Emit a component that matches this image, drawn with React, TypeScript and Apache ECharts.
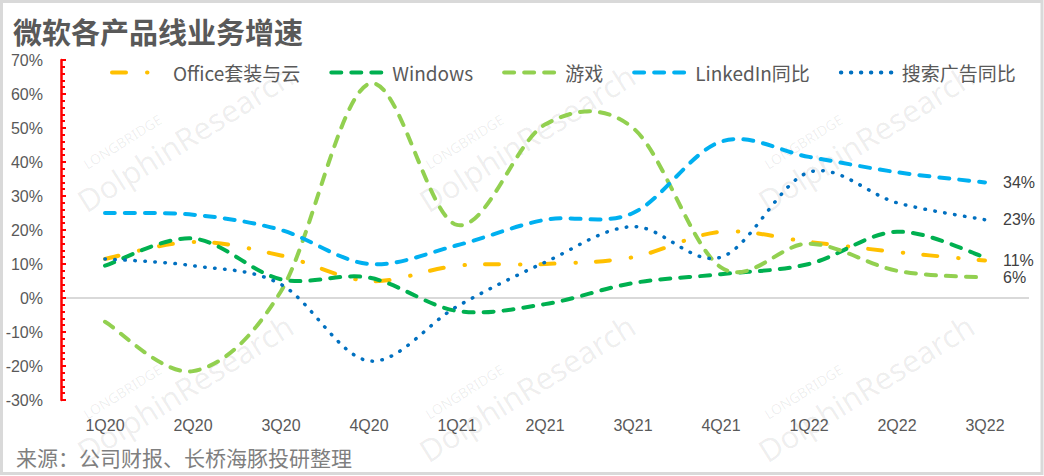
import React, { useEffect, useRef } from "react";
import * as echarts from "echarts";

const categories = ["1Q20", "2Q20", "3Q20", "4Q20", "1Q21", "2Q21", "3Q21", "4Q21", "1Q22", "2Q22", "3Q22"];
const officeCloud = [11.5, 16.5, 12.5, 5, 9.5, 10, 12, 19.5, 16.5, 13.5, 11];
const windows = [9.5, 17.5, 5.5, 6, -3.8, -1.8, 4.4, 7, 10, 19.5, 12];
const gaming = [-7, -21.5, 2, 63, 21.5, 51, 50, 9, 16, 8, 6];
const linkedin = [25, 24.5, 20, 10, 15.5, 23, 25, 46, 41.5, 37, 34];
const searchAds = [11.5, 9.5, 4, -18.5, -2.5, 10.5, 21, 12, 37, 28, 23];

const seriesNames = ["Office套装与云", "Windows", "游戏", "LinkedIn同比", "搜索广告同比"];
const yTicksMin = -30;
const yTicksMax = 70;
const yInterval = 10;

const titleText = "微软各产品线业务增速";
const sourceText = "来源：公司财报、长桥海豚投研整理";

const NUM_FONT = '"Liberation Sans", Arial, sans-serif';
const CJK_FONT = '"Noto Sans CJK SC", "Noto Sans", sans-serif';

function watermark(cx: number, cy: number) {
  return {
    type: "group",
    x: cx,
    y: cy,
    rotation: (32 * Math.PI) / 180,
    silent: true,
    z: 0,
    children: [
      {
        type: "text",
        x: 0,
        y: 0,
        style: {
          text: "DolphinResearch",
          font: '31px "Noto Sans"',
          fill: "rgba(0,0,0,0.07)",
          textAlign: "center",
          textVerticalAlign: "middle",
        },
      },
      {
        type: "text",
        x: -55,
        y: -30,
        style: {
          text: "LONGBRIDGE",
          font: '14px "Noto Sans"',
          fill: "rgba(0,0,0,0.07)",
          textAlign: "center",
          textVerticalAlign: "middle",
        },
      },
    ],
  };
}

function curvePath(pts: number[][]) {
  if (!pts.length) return "";
  let d = `M${pts[0][0]},${pts[0][1]}`;
  for (let i = 0; i < pts.length - 1; i++) {
    const p0 = pts[i - 1] || pts[i];
    const p1 = pts[i];
    const p2 = pts[i + 1];
    const p3 = pts[i + 2] || pts[i + 1];
    const c1x = p1[0] + (p2[0] - p0[0]) / 6;
    const c1y = p1[1] + (p2[1] - p0[1]) / 6;
    const c2x = p2[0] - (p3[0] - p1[0]) / 6;
    const c2y = p2[1] - (p3[1] - p1[1]) / 6;
    d += ` C${c1x},${c1y} ${c2x},${c2y} ${p2[0]},${p2[1]}`;
  }
  return d;
}

export default function App() {
  const ref = useRef<HTMLDivElement>(null);

  useEffect(() => {
    if (!ref.current) return;
    const chart = echarts.init(ref.current, undefined, { renderer: "svg" });

    const splitColors: string[] = [];
    for (let v = yTicksMin; v <= yTicksMax; v += yInterval) {
      splitColors.push(v === 0 ? "#d9d9d9" : "rgba(0,0,0,0)");
    }

    // invisible line series: legend entries + end labels
    const lineSeries = (name: string, data: number[], color: string, dash: number[], label: boolean) => ({
      name,
      type: "line",
      data,
      symbol: "none",
      showSymbol: false,
      silent: true,
      lineStyle: { color, width: 0, type: dash, cap: "round", join: "round" },
      itemStyle: { color },
      endLabel: {
        show: label,
        formatter: (p: any) => `${p.value}%`,
        distance: 18,
        fontSize: 16,
        color: "#404040",
        fontFamily: NUM_FONT,
      },
      z: 4,
    });

    // visible smoothed curves drawn through the axis scales
    const curveSeries = (name: string, data: number[], color: string, dash: number[], width: number) => ({
      name: name + "-curve",
      type: "custom",
      coordinateSystem: "cartesian2d",
      data: data.map((v, i) => [i, v]),
      encode: { x: 0, y: 1 },
      silent: true,
      z: 3,
      renderItem: (params: any, api: any) => {
        if (params.dataIndexInside !== 0) return null;
        const n = params.dataInsideLength;
        const pts: number[][] = [];
        for (let i = 0; i < n; i++) {
          pts.push(api.coord([api.value(0, i), api.value(1, i)]));
        }
        return {
          type: "path",
          shape: { pathData: curvePath(pts) },
          style: {
            fill: "none",
            stroke: color,
            lineWidth: width,
            lineDash: dash,
            lineCap: "round",
            lineJoin: "round",
          },
        };
      },
    });

    const defs: [string, number[], string, number[], number, boolean][] = [
      [seriesNames[0], officeCloud, "#FFC000", [14, 21, 0.5, 20], 4, true],
      [seriesNames[1], windows, "#00B050", [10, 10], 4, false],
      [seriesNames[2], gaming, "#92D050", [10, 10], 4, true],
      [seriesNames[3], linkedin, "#00B0F0", [10, 10], 4, true],
      [seriesNames[4], searchAds, "#0070C0", [0.5, 9.5], 3.5, true],
    ];

    const series: any[] = [];
    defs.forEach(([n, d, c, dash, w]) => series.push(curveSeries(n, d, c, dash, w)));
    defs.forEach(([n, d, c, dash, , lab]) => series.push(lineSeries(n, d, c, dash, lab)));

    chart.setOption({
      animation: false,
      backgroundColor: "#ffffff",
      title: {
        text: titleText,
        left: 8,
        top: 11,
        textStyle: { fontSize: 29, fontWeight: "bold", color: "#595959", fontFamily: CJK_FONT },
      },
      legend: {
        left: 105,
        top: 58,
        itemWidth: 55,
        itemHeight: 14,
        itemGap: 29,
        lineStyle: { width: 4 },
        itemStyle: { color: "rgba(0,0,0,0)", borderWidth: 0 },
        textStyle: { fontSize: 19, color: "#595959", fontFamily: CJK_FONT, padding: [0, 0, 0, 1] },
        data: seriesNames,
      },
      grid: { left: 61, right: 15, top: 60, bottom: 76, containLabel: false },
      xAxis: {
        type: "category",
        data: categories,
        boundaryGap: true,
        axisLine: { show: false },
        axisTick: { show: false },
        axisLabel: { fontSize: 16, color: "#595959", margin: 17, fontFamily: NUM_FONT },
      },
      yAxis: {
        type: "value",
        min: yTicksMin,
        max: yTicksMax,
        interval: yInterval,
        axisLine: { show: true, lineStyle: { color: "#ff0000", width: 2.5 } },
        axisTick: { show: true, inside: true, length: 5, lineStyle: { color: "#ff0000", width: 2 } },
        minorTick: { show: true, splitNumber: 5, length: 4, lineStyle: { color: "#ff0000", width: 2 } },
        axisLabel: { fontSize: 16, color: "#595959", margin: 18, fontFamily: NUM_FONT, formatter: (v: number) => `${v}%` },
        splitLine: { show: true, lineStyle: { color: splitColors, width: 2 } },
      },
      graphic: [
        watermark(185, 138),
        watermark(527, 138),
        watermark(866, 138),
        watermark(185, 388),
        watermark(527, 388),
        watermark(866, 388),
        {
          type: "text",
          left: 16,
          top: 446,
          silent: true,
          style: { text: sourceText, font: `21px ${CJK_FONT}`, fill: "#7f7f7f" },
        },
        {
          type: "rect",
          silent: true,
          shape: { x: 1.5, y: 1.5, width: 1040.5, height: 472 },
          style: { fill: "none", stroke: "#d9d9d9", lineWidth: 3 },
        },
      ],
      series,
    });

    return () => chart.dispose();
  }, []);

  return (
    <div
      ref={ref}
      style={{ position: "fixed", left: 0, top: 0, width: 1044, height: 476, background: "#fff" }}
    />
  );
}
